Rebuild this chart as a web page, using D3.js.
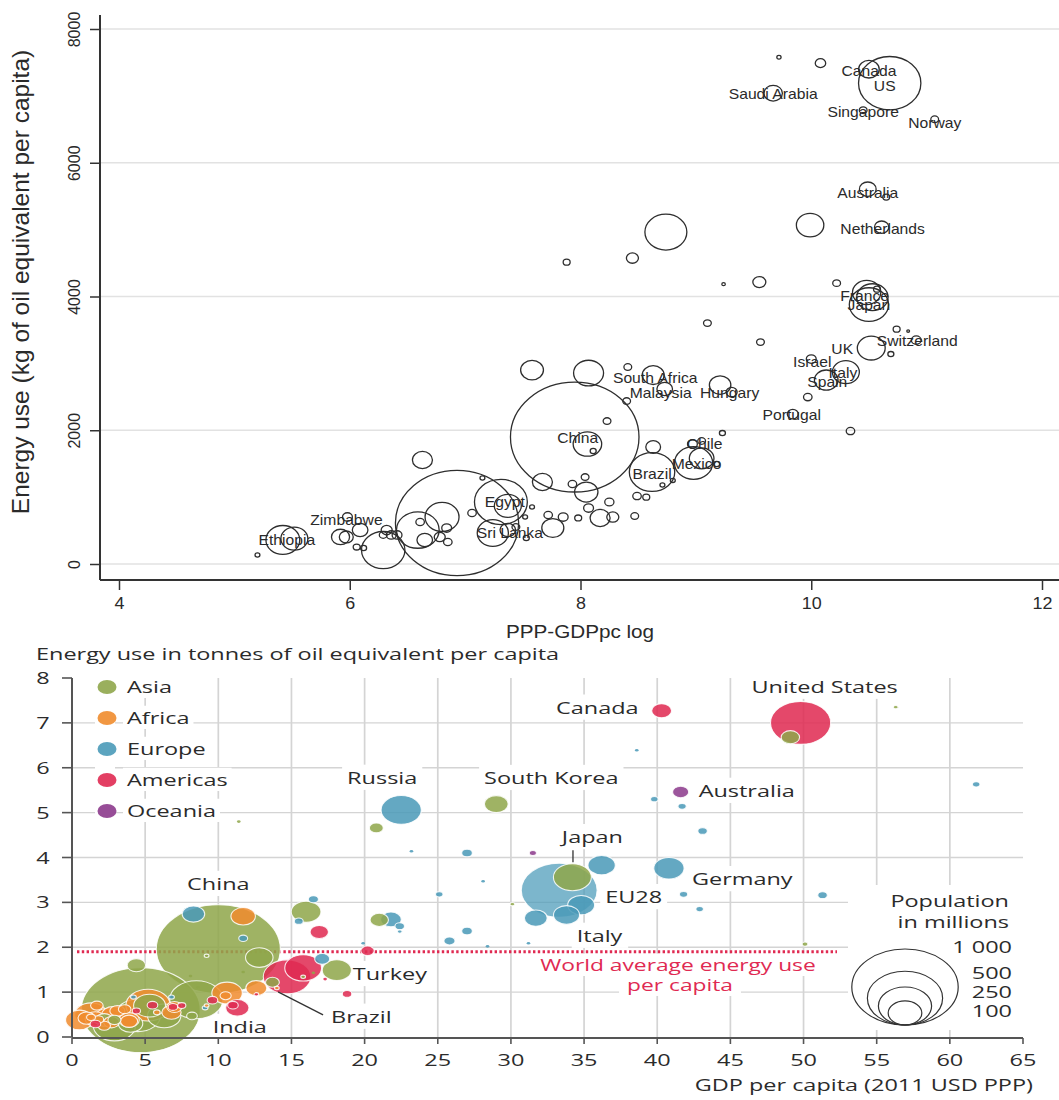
<!DOCTYPE html>
<html><head><meta charset="utf-8">
<script src="https://cdn.jsdelivr.net/npm/d3@7"></script>
<style>body{margin:0;background:#fff}</style>
</head><body>
<svg id="chart" width="1059" height="1100"></svg>
<script>
// ===== Upper panel: energy use (kg oil eq. per capita) vs log PPP GDP per capita =====
// labelled countries
const topLabels = ["Canada","US","Saudi Arabia","Singapore","Norway","Australia","Netherlands","France","Japan","Switzerland",
                   "UK","Israel","Italy","Spain","Hungary","Portugal","South Africa","Malaysia","China","Chile",
                   "Mexico","Brazil","Egypt","Sri Lanka","Zimbabwe","Ethiopia"];
const topLabGdp = [10.50,10.68,9.67,10.45,11.07,10.49,10.61,10.48,10.50,10.91,
                   10.52,10.00,10.30,10.13,9.31,9.84,8.63,8.73,7.95,9.05,
                   8.98,8.62,7.31,7.24,5.98,5.42];
const topLabKg  = [7399,7190,7040,6786,6650,5605,5037,4060,3880,3348,
                   3229,3064,2870,2750,2571,2242,2825,2616,1898,1839,
                   1510,1375,927,463,703,360];
const topLabPop = [35,320,28,5,5,23,17,66,127,8,
                   64,8,60,46,10,10,40,20,1360,5,
                   120,170,230,80,8,94];
// other countries
const topGdp = [9.72,10.08,10.65,9.99,7.88,8.45,8.74,9.24,9.55,10.22,
                10.53,10.57,9.10,9.56,10.74,10.84,10.69,9.21,9.97,10.34,
                9.23,7.58,8.07,8.41,8.40,8.23,8.06,8.11,8.63,8.97,
                9.05,9.18,8.71,8.80,8.49,8.57,7.67,7.93,8.04,8.05,
                8.25,8.07,8.17,8.28,8.47,7.72,7.85,7.98,7.76,5.20,
                5.52,5.92,5.97,6.09,6.06,6.12,6.29,6.32,6.36,6.41,
                6.29,6.93,6.63,7.15,6.59,6.80,6.65,6.78,6.85,6.84,
                6.61,7.06,7.37,7.37,7.44,7.53,7.58,7.52];
const topKg  = [7578,7489,5486,5067,4514,4574,4963,4185,4215,4200,
                3990,4110,3602,3318,3512,3483,3139,2675,2496,1988,
                1958,2900,2855,2945,2436,2137,1794,1689,1749,1794,
                1580,1495,1181,1250,1016,1000,1226,1196,1300,1076,
                927,837,688,702,717,732,702,688,538,134,
                380,404,404,508,254,239,209,508,434,434,
                434,613,1555,1286,508,703,359,404,329,538,
                628,762,870,508,553,389,852,703];
const topPop = [1.5,9,4,62,4,12,145,1,14,5,
                81,4,5,5,4,0.5,3,38,6,6,
                3,43,74,5,5,5,67,3,18,8,
                50,3,2,2,6,4,33,6,5,45,
                7,8,33,12,5,6,8,4,40,2,
                60,27,16,20,4,3,155,10,8,8,
                5,1250,33,2,150,95,20,10,6,8,
                6,6,60,20,5,3,2,2];
// label placement relative to the bubble centre [dx, dy] (px)
const topLabelShift = {"Canada":[0,2],"US":[-5,3],"Saudi Arabia":[0,1],"Singapore":[0,2],"Norway":[0,4],
  "Australia":[0,4],"Netherlands":[1,2],"France":[-2,4],"Japan":[0,0],"Switzerland":[1,1],"UK":[-29,1],
  "Israel":[1,3],"Italy":[-3,1],"Spain":[1,2],"Hungary":[-2,1],"Portugal":[-1,1],"South Africa":[2,3],
  "Malaysia":[-4,4],"China":[3,1],"Chile":[3,3],"Mexico":[3,1],"Brazil":[0,2],"Egypt":[4,0],
  "Sri Lanka":[17,0],"Zimbabwe":[-1,3],"Ethiopia":[4,0]};
const topXTicks = [4,6,8,10,12];
const topYTicks = [0,2000,4000,6000,8000];

// ===== Lower panel: energy use (toe per capita) vs GDP per capita (thousand 2011 USD PPP) =====
const regions = ["Asia","Africa","Europe","Americas","Oceania"];
const regionColors = ["#8fa64b","#f08c2e","#4a9ab8","#e02a52","#8c3a8c"];

// the first entries of each region carry the printed labels
const asiaLabels = ["China","India","Japan","South Korea","Turkey"];
const asiaGdp    = [10.0,4.7,34.2,29.0,18.1,8.5,4.5,2.9,6.3,5.3,
                    16.0,12.8,4.0,21.0,4.4,49.1,13.7,20.8,2.2,2.9,
                    56.3,11.4,30.1,50.1,9.2,11.7,8.1,8.6,8.2,15.8,
                    16.5];
const asiaEnergy = [1.96,0.60,3.56,5.19,1.49,0.83,0.48,0.25,0.47,0.70,
                    2.79,1.77,0.30,2.61,1.60,6.68,1.22,4.66,0.38,0.38,
                    7.35,4.80,2.96,2.07,1.81,1.45,1.36,1.11,0.47,1.34,
                    1.43];
const asiaPop    = [1360,1250,127,50,75,250,182,157,98,90,
                    78,67,53,30,30,30,17,17,28,15,
                    2,1,2,3,2,1,1,1,10,2,
                    1];

const africaLabels = [];
const africaGdp    = [5.2,1.3,10.6,0.5,11.7,2.4,2.8,12.6,3.9,6.8,
                      1.6,3.9,1.0,7.0,2.7,3.1,3.6,1.7,2.2,10.5,
                      1.8,1.3,9.2,14.0,5.8];
const africaEnergy = [0.71,0.50,0.98,0.38,2.69,0.45,0.50,1.09,0.38,0.55,
                      0.40,0.35,0.42,0.67,0.33,0.58,0.62,0.70,0.25,0.92,
                      0.39,0.44,0.70,1.09,0.55];
const africaPop    = [174,94,82,67,53,49,44,39,37,33,
                      37,26,26,21,22,20,14,14,14,11,
                      10,7,2,2,4];

const europeLabels = ["EU28","Russia","Germany","Italy"];
const europeGdp    = [33.3,22.5,40.8,33.8,36.2,34.8,31.7,8.3,21.8,43.1,
                      41.7,39.8,61.8,38.6,51.3,41.8,42.9,27.0,23.2,28.1,
                      25.1,25.8,27.0,22.4,19.9,31.2,28.4,22.4,16.5,15.5,
                      17.1,11.7,9.1,4.2,6.8];
const europeEnergy = [3.27,5.06,3.76,2.72,3.83,2.94,2.65,2.74,2.62,4.59,
                      5.14,5.30,5.63,6.39,3.16,3.18,2.85,4.10,4.14,3.47,
                      3.18,2.14,2.36,2.47,2.09,2.09,2.02,2.35,3.07,2.58,
                      1.74,2.20,0.65,0.89,0.89];
const europePop    = [508,143,81,60,66,64,46,45,38,8,
                      6,5,5,1,8,6,5,10,0.5,0.3,
                      5,11,10,8,0.6,0.3,0.2,2,9,7,
                      20,7,3,3,3];

const americasLabels = ["United States","Brazil","Canada"];
const americasGdp    = [49.8,14.7,40.3,15.8,11.3,20.2,16.9,11.0,9.6,18.8,
                        17.3,1.6,4.4,5.5,6.9,7.5,12.6];
const americasEnergy = [7.00,1.34,7.27,1.54,0.65,1.92,2.34,0.71,0.82,0.96,
                        1.29,0.29,0.58,0.71,0.67,0.70,0.95];
const americasPop    = [320,200,35,120,48,16,30,10,10,8,
                        1,10,6,10,8,6,2];

const oceaniaLabels = ["Australia"];
const oceaniaGdp    = [41.6,31.5];
const oceaniaEnergy = [5.46,4.10];
const oceaniaPop    = [23,4.5];

const botXTicks = d3.range(0, 66, 5);
const botYTicks = d3.range(0, 9, 1);
const worldAverage = 1.9;
const popLegendValues = [1000, 500, 250, 100];
const popLegendLabels = ["1 000", "500", "250", "100"];

// label placement relative to the bubble centre [dx, dy, anchor]
const botLabelShift = {"United States":[24,-30,"middle"],"Canada":[-23,3,"end"],"Russia":[-19,-26,"middle"],
  "South Korea":[55,-20,"middle"],"Australia":[18,5,"start"],"Japan":[20,-34,"middle"],"EU28":[46,13,"start"],
  "Germany":[23,17,"start"],"Italy":[33,27,"middle"],"China":[0,-59,"middle"],"India":[99,23,"middle"],
  "Turkey":[16,10,"start"],"Brazil":[44,46,"start"]};
// leader lines [x1,y1,x2,y2] relative to the bubble centre
const botLeaders = {"Japan":[0.6,-27,0.6,-15],"Brazil":[36,38,-9,15]};

// ------------------------------------------------------------------
const svg = d3.select("#chart");
const TOPFONT = "'Liberation Sans', Arial, sans-serif";
const BOTFONT = "'Open Sans', 'Noto Sans', sans-serif";
const SX_TOP = 1.12, SX_BOT = 1.38;

function stext(layer, x, y, str, o) {
  return layer.append("text")
    .attr("transform", `translate(${x},${y}) scale(${o.sx || 1},1)`)
    .attr("text-anchor", o.anchor || "middle")
    .style("font-family", o.font)
    .style("font-size", o.size + "px")
    .attr("fill", o.color || "#222")
    .text(str);
}

// ---------------- upper panel ----------------
const tX = d3.scaleLinear().domain([4, 12]).range([119, 1042]);
const tY = d3.scaleLinear().domain([0, 8000]).range([564, 29]);
const tR = d3.scaleSqrt().domain([0, 1000]).range([0, 47.1]);
const upper = svg.append("g");

upper.append("g").selectAll("line").data(topYTicks).join("line")
  .attr("x1", 100).attr("x2", 1059).attr("y1", d => tY(d)).attr("y2", d => tY(d))
  .attr("stroke", "#e2e2e2").attr("stroke-width", 1.6);

const topData = topGdp.map((g, i) => ({ n: "", x: g, y: topKg[i], p: topPop[i] }))
  .concat(topLabels.map((n, i) => ({ n, x: topLabGdp[i], y: topLabKg[i], p: topLabPop[i] })));
upper.append("g").selectAll("ellipse").data(topData).join("ellipse")
  .attr("cx", d => tX(d.x)).attr("cy", d => tY(d.y))
  .attr("ry", d => Math.max(1.2, tR(d.p))).attr("rx", d => Math.max(1.4, tR(d.p) * 1.17))
  .attr("fill", "none").attr("stroke", "#2e2e2e").attr("stroke-width", 1.3);

const topLab = upper.append("g");
topData.filter(d => d.n).forEach(d => {
  const s = topLabelShift[d.n] || [0, 0];
  stext(topLab, tX(d.x) + s[0], tY(d.y) + s[1] + 5, d.n, { sx: SX_TOP, font: TOPFONT, size: 14, color: "#2a2a2a" });
});

// axes
const yAxT = d3.axisLeft(tY).tickValues(topYTicks).tickSize(10).tickFormat(d3.format("d"));
const yg = upper.append("g").attr("transform", "translate(100,0)").call(yAxT);
yg.select(".domain").remove();
yg.selectAll(".tick line").attr("stroke", "#333").attr("stroke-width", 1.5);
yg.selectAll(".tick text").attr("x", null).attr("dy", null)
  .attr("transform", "translate(-20,0) rotate(-90)").attr("text-anchor", "middle")
  .style("font-family", TOPFONT).style("font-size", "16px").attr("fill", "#2a2a2a");
upper.append("line").attr("x1", 100).attr("x2", 100).attr("y1", 15).attr("y2", 580)
  .attr("stroke", "#333").attr("stroke-width", 2);

const xAxT = d3.axisBottom(tX).tickValues(topXTicks).tickSize(10).tickFormat(d3.format("d"));
const xg = upper.append("g").attr("transform", "translate(0,580)").call(xAxT);
xg.select(".domain").remove();
xg.selectAll(".tick line").attr("stroke", "#333").attr("stroke-width", 1.5);
xg.selectAll(".tick text").attr("y", null).attr("dy", null)
  .attr("transform", `translate(0,29) scale(${SX_TOP},1)`)
  .style("font-family", TOPFONT).style("font-size", "16px").attr("fill", "#2a2a2a");
upper.append("line").attr("x1", 100).attr("x2", 1059).attr("y1", 580).attr("y2", 580)
  .attr("stroke", "#333").attr("stroke-width", 2);

stext(upper, 580, 638, "PPP-GDPpc log", { sx: 1.15, font: TOPFONT, size: 18, color: "#2a2a2a" });
upper.append("text").attr("transform", "translate(29,282) rotate(-90)").attr("text-anchor", "middle")
  .style("font-family", TOPFONT).style("font-size", "24.5px").attr("fill", "#2a2a2a")
  .text("Energy use (kg of oil equivalent per capita)");

// ---------------- lower panel ----------------
const bX = d3.scaleLinear().domain([0, 65]).range([72, 1023]);
const bY = d3.scaleLinear().domain([0, 8]).range([1037, 678]);
const bR = d3.scaleSqrt().domain([0, 1000]).range([0, 38]);
const lower = svg.append("g");
const gridL = lower.append("g"), knockL = lower.append("g"), avgL = lower.append("g"),
      bubL = lower.append("g"), labL = lower.append("g"), legL = lower.append("g");

gridL.selectAll("line.v").data(botXTicks.filter(d => d > 0 && d < 65)).join("line").attr("class", "v")
  .attr("x1", d => bX(d)).attr("x2", d => bX(d)).attr("y1", bY(8)).attr("y2", bY(0))
  .attr("stroke", "#d4d4d4").attr("stroke-width", 1.7);
gridL.selectAll("line.h").data(botYTicks.filter(d => d > 0 && d < 8)).join("line").attr("class", "h")
  .attr("x1", bX(0)).attr("x2", bX(65)).attr("y1", d => bY(d)).attr("y2", d => bY(d))
  .attr("stroke", "#d4d4d4").attr("stroke-width", 1.3);

function knock(t, padX, padY) {
  const b = t.node().getBBox();
  const m = /translate\(([-\d.]+),([-\d.]+)\) scale\(([-\d.]+)/.exec(t.attr("transform"));
  const x = +m[1], y = +m[2], s = +m[3];
  knockL.append("rect").attr("x", x + b.x * s - padX).attr("y", y + b.y - padY)
    .attr("width", b.width * s + 2 * padX).attr("height", b.height + 2 * padY).attr("fill", "#fff");
}

// world average line
avgL.append("line").attr("x1", 77).attr("x2", 837).attr("y1", bY(worldAverage)).attr("y2", bY(worldAverage))
  .attr("stroke", "#e02a52").attr("stroke-width", 3).attr("stroke-dasharray", "2.4,2.4");

// bubbles
const bubbles = [];
function addRegion(ri, labels, gdp, en, pop) {
  gdp.forEach((g, i) => bubbles.push({ n: labels[i] || "", r: ri, x: g, y: en[i], p: pop[i] }));
}
addRegion(0, asiaLabels, asiaGdp, asiaEnergy, asiaPop);
addRegion(1, africaLabels, africaGdp, africaEnergy, africaPop);
addRegion(2, europeLabels, europeGdp, europeEnergy, europePop);
addRegion(3, americasLabels, americasGdp, americasEnergy, americasPop);
addRegion(4, oceaniaLabels, oceaniaGdp, oceaniaEnergy, oceaniaPop);
bubbles.sort((a, b) => b.p - a.p);

bubL.selectAll("ellipse").data(bubbles).join("ellipse")
  .attr("cx", d => bX(d.x)).attr("cy", d => bY(d.y))
  .attr("ry", d => Math.max(1.3, bR(d.p))).attr("rx", d => Math.max(1.8, bR(d.p) * 1.4))
  .attr("fill", d => regionColors[d.r]).attr("fill-opacity", d => d.n === "EU28" ? 0.72 : 0.86)
  .attr("stroke", "#fff").attr("stroke-opacity", 0.85).attr("stroke-width", d => d.p > 1 ? 1.1 : 0);

// labels
const labOpt = { sx: SX_BOT, font: BOTFONT, size: 17, color: "#2b2b2b" };
bubbles.filter(d => d.n).forEach(d => {
  const s = botLabelShift[d.n];
  const t = stext(labL, bX(d.x) + s[0], bY(d.y) + s[1], d.n, Object.assign({}, labOpt, { anchor: s[2] }));
  knock(t, 5, 1);
  const l = botLeaders[d.n];
  if (l) labL.append("line").attr("x1", bX(d.x) + l[0]).attr("y1", bY(d.y) + l[1])
    .attr("x2", bX(d.x) + l[2]).attr("y2", bY(d.y) + l[3]).attr("stroke", "#333").attr("stroke-width", 1.3);
});

const avgOpt = { sx: SX_BOT, font: BOTFONT, size: 16.5, color: "#e02a52" };
knock(stext(labL, 678, 971, "World average energy use", avgOpt), 6, 0);
knock(stext(labL, 680, 991, "per capita", avgOpt), 8, 0);

// axes
const yAxB = lower.append("g");
yAxB.append("line").attr("x1", 72).attr("x2", 72).attr("y1", bY(8)).attr("y2", bY(0)).attr("stroke", "#555").attr("stroke-width", 2);
yAxB.selectAll("line.t").data(botYTicks).join("line").attr("class", "t")
  .attr("x1", 62).attr("x2", 72).attr("y1", d => bY(d)).attr("y2", d => bY(d)).attr("stroke", "#555").attr("stroke-width", 1.6);
botYTicks.forEach(d => stext(yAxB, 43, bY(d) + 6, d, labOpt));

const xAxB = lower.append("g");
xAxB.append("line").attr("x1", 72).attr("x2", 1023).attr("y1", 1038).attr("y2", 1038).attr("stroke", "#555").attr("stroke-width", 2);
xAxB.selectAll("line.t").data(botXTicks).join("line").attr("class", "t")
  .attr("x1", d => bX(d)).attr("x2", d => bX(d)).attr("y1", 1038).attr("y2", 1044).attr("stroke", "#555").attr("stroke-width", 1.6);
botXTicks.forEach(d => stext(xAxB, bX(d), 1066, d, labOpt));

stext(lower, 1033, 1091, "GDP per capita (2011 USD PPP)", Object.assign({}, labOpt, { anchor: "end" }));
stext(lower, 36, 660, "Energy use in tonnes of oil equivalent per capita", Object.assign({}, labOpt, { size: 17, anchor: "start" }));

// region legend
regions.forEach((r, i) => {
  const y = 687 + i * 31;
  legL.append("ellipse").attr("cx", 107).attr("cy", y).attr("rx", 9.5).attr("ry", 7)
    .attr("fill", regionColors[i]).attr("fill-opacity", 0.9);
  knock(stext(legL, 127, y + 6, r, Object.assign({}, labOpt, { anchor: "start" })), 4, 0);
});
knockL.append("rect").attr("x", 95).attr("y", 676).attr("width", 20).attr("height", 146).attr("fill", "#fff");

// population size legend
const pc = { x: 905, y: 1025 };
legL.selectAll("ellipse.pl").data(popLegendValues).join("ellipse").attr("class", "pl")
  .attr("cx", pc.x).attr("cy", d => pc.y - bR(d)).attr("rx", d => bR(d) * 1.4).attr("ry", d => bR(d))
  .attr("fill", "none").attr("stroke", "#333").attr("stroke-width", 1.2);
const plLabY = [947, 973, 992, 1011];
popLegendLabels.forEach((s, i) => stext(legL, 1012, plLabY[i] + 6, s, Object.assign({}, labOpt, { anchor: "end" })));
stext(legL, 1009, 907, "Population", Object.assign({}, labOpt, { anchor: "end" }));
stext(legL, 1009, 928, "in millions", Object.assign({}, labOpt, { anchor: "end" }));
knockL.append("rect").attr("x", 848).attr("y", 885).attr("width", 180).attr("height", 145).attr("fill", "#fff");
</script>
</body></html>
